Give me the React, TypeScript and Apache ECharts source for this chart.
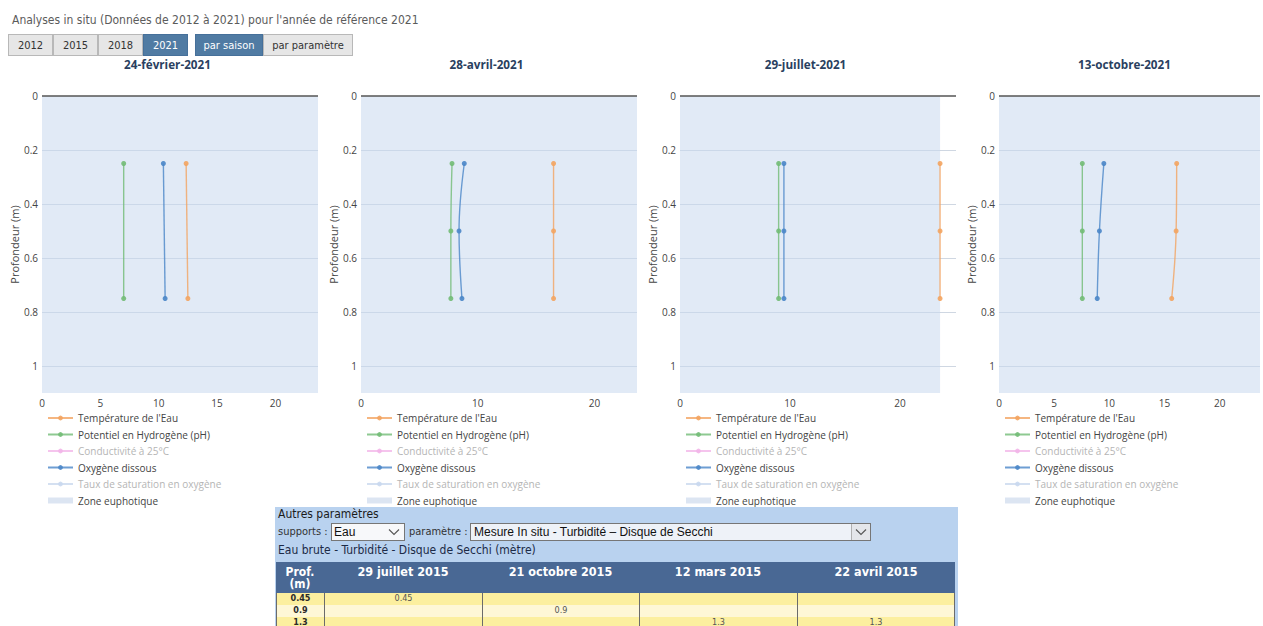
import React, { useEffect, useRef } from "react";
import * as echarts from "echarts";

// ---------- data ----------
const pageTitle = "Analyses in situ (Données de 2012 à 2021) pour l'année de référence 2021";
const yearButtons = ["2012", "2015", "2018", "2021"];
const activeYear = "2021";
const viewButtons = ["par saison", "par paramètre"];
const activeView = "par saison";

const sampleDates = ["24-février-2021", "28-avril-2021", "29-juillet-2021", "13-octobre-2021"];
const depths = [
  [0.25, 0.75],
  [0.25, 0.5, 0.75],
  [0.25, 0.5, 0.75],
  [0.25, 0.5, 0.75],
];
const temperature = [
  [12.35, 12.5],
  [16.5, 16.5, 16.5],
  [23.65, 23.65, 23.65],
  [16.1, 16.05, 15.65],
];
const ph = [
  [7.0, 7.0],
  [7.8, 7.7, 7.7],
  [8.97, 8.97, 8.97],
  [7.55, 7.55, 7.55],
];
const oxygen = [
  [10.4, 10.55],
  [8.85, 8.4, 8.65],
  [9.45, 9.45, 9.45],
  [9.5, 9.1, 8.9],
];
const xAxisMax = [23.65, 23.65, 25.1, 23.65];
const xTickStep = [5, 10, 10, 5];
const depthStep = 0.2;
const depthMax = 1.1;
const euphoticDepth = 1.1;

const seriesNames = [
  "Température de l'Eau",
  "Potentiel en Hydrogène (pH)",
  "Conductivité à 25°C",
  "Oxygène dissous",
  "Taux de saturation en oxygène",
  "Zone euphotique",
];

const supportLabel = "Eau";
const parameterLabel = "Mesure In situ - Turbidité – Disque de Secchi";
const tableTitle = "Eau brute - Turbidité - Disque de Secchi (mètre)";
const tableDates = ["29 juillet 2015", "21 octobre 2015", "12 mars 2015", "22 avril 2015"];
const tableDepths = ["0.45", "0.9", "1.3"];
const tableValues: (string | null)[][] = [
  ["0.45", null, null, null],
  [null, "0.9", null, null],
  [null, null, "1.3", "1.3"],
];

// ---------- styles ----------
const COLORS = {
  temp: "#f3a461",
  ph: "#72bb76",
  cond: "#f2b5e8",
  oxy: "#4a86c8",
  sat: "#c9d8ee",
  zone: "#dce5f2",
};
const chartFont = "'Open Sans', 'Noto Sans', sans-serif";
const pageFont = "'DejaVu Sans Condensed', 'DejaVu Sans', Verdana, sans-serif";

const GRID_LEFT0 = 42;
const GRID_STEP = 319;
const GRID_TOP = 96;
const GRID_W = 276;
const GRID_H = 297;

function buildOption() {
  const zoneX = Math.max(...temperature.flat());
  const grids: any[] = [];
  const xAxes: any[] = [];
  const yAxes: any[] = [];
  const series: any[] = [];
  const titles: any[] = [];
  const legends: any[] = [];
  sampleDates.forEach((date, i) => {
    const left = GRID_LEFT0 + GRID_STEP * i;
    grids.push({ left, top: GRID_TOP, width: GRID_W, height: GRID_H, containLabel: false });
    titles.push({
      text: date,
      left: 8 + GRID_STEP * i + GRID_STEP / 2,
      top: 58,
      padding: 0,
      textAlign: "center",
      textStyle: { fontFamily: chartFont, fontSize: 11.7, fontWeight: "bold", color: "#2a3f5f" },
    });
    const step = xTickStep[i];
    xAxes.push({
      type: "value",
      gridIndex: i,
      min: 0,
      max: xAxisMax[i],
      interval: step,
      axisLine: { show: false },
      axisTick: { show: false },
      splitLine: { show: false },
      axisLabel: {
        color: "#444",
        fontFamily: chartFont,
        fontSize: 10,
        margin: 5,
        formatter: (v: number) => (Math.abs(v / step - Math.round(v / step)) < 1e-6 ? String(v) : ""),
      },
    });
    yAxes.push({
      type: "value",
      gridIndex: i,
      inverse: true,
      min: 0,
      max: depthMax,
      interval: depthStep,
      name: "Profondeur (m)",
      nameLocation: "middle",
      nameGap: 22,
      nameTextStyle: { color: "#444", fontFamily: chartFont, fontSize: 11 },
      axisLine: { show: false },
      axisTick: { show: false },
      splitLine: {
        show: true,
        lineStyle: {
          color: [
            "rgba(0,0,0,0)",
            "#cfd7e2",
            "#cfd7e2",
            "#cfd7e2",
            "#cfd7e2",
            "#cfd7e2",
            "rgba(0,0,0,0)",
          ],
          width: 1,
        },
      },
      axisLabel: {
        color: "#444",
        fontFamily: chartFont,
        fontSize: 10,
        margin: 4,
        formatter: (v: number) =>
          Math.abs(v / depthStep - Math.round(v / depthStep)) < 1e-6 ? String(Math.round(v * 10) / 10) : "",
      },
    });
    const common = {
      type: "line",
      xAxisIndex: i,
      yAxisIndex: i,
      symbol: "circle",
      symbolSize: 5,
      smooth: 0.4,
      lineStyle: { width: 1.4, opacity: 0.8 },
      itemStyle: { opacity: 0.9 },
      z: 3,
    };
    // zone euphotique
    series.push({
      type: "line",
      name: seriesNames[5],
      xAxisIndex: i,
      yAxisIndex: i,
      data: [],
      color: COLORS.zone,
      z: 1,
      markArea: {
        silent: true,
        itemStyle: { color: "rgba(200,216,238,0.55)" },
        data: [[{ xAxis: 0, yAxis: 0 }, { xAxis: zoneX, yAxis: euphoticDepth }]],
      },
      markLine: {
        silent: true,
        symbol: "none",
        label: { show: false },
        lineStyle: { color: "#555", width: 1.5, type: "solid" },
        data: [{ yAxis: 0 }],
      },
    });
    series.push({
      ...common,
      name: seriesNames[0],
      color: COLORS.temp,
      data: temperature[i].map((v, k) => [v, depths[i][k]]),
    });
    series.push({
      ...common,
      name: seriesNames[1],
      color: COLORS.ph,
      data: ph[i].map((v, k) => [v, depths[i][k]]),
    });
    series.push({ ...common, name: seriesNames[2], color: COLORS.cond, data: [] });
    series.push({
      ...common,
      name: seriesNames[3],
      color: COLORS.oxy,
      data: oxygen[i].map((v, k) => [v, depths[i][k]]),
    });
    series.push({ ...common, name: seriesNames[4], color: COLORS.sat, data: [] });

    legends.push({
      orient: "vertical",
      left: left + 5,
      top: 413,
      padding: 0,
      itemWidth: 25,
      itemHeight: 6,
      itemGap: 6.5,
      selectedMode: false,
      textStyle: { fontFamily: chartFont, fontSize: 10, color: "#444", lineHeight: 10 },
      data: seriesNames.map((n, k) => {
        if (k === 2 || k === 4) return { name: n, textStyle: { color: "#b5b5b5" } };
        if (k === 5) return { name: n, icon: "rect" };
        return { name: n };
      }),
    });
  });
  return {
    animation: false,
    title: titles,
    grid: grids,
    xAxis: xAxes,
    yAxis: yAxes,
    legend: legends,
    series,
  };
}

function Chevron() {
  return (
    <svg width="12" height="8" viewBox="0 0 12 8" style={{ display: "block" }}>
      <polyline points="1,1.5 6,6.5 11,1.5" fill="none" stroke="#555" strokeWidth="1.1" />
    </svg>
  );
}

export default function App() {
  const ref = useRef<HTMLDivElement>(null);
  useEffect(() => {
    if (!ref.current) return;
    const chart = echarts.init(ref.current, undefined, { renderer: "svg" });
    chart.setOption(buildOption() as any);
    return () => chart.dispose();
  }, []);

  const btnBase: React.CSSProperties = {
    position: "absolute",
    top: 34,
    height: 22,
    boxSizing: "border-box",
    border: "1px solid #b8b8b8",
    display: "flex",
    alignItems: "center",
    justifyContent: "center",
    fontFamily: pageFont,
    fontSize: 11,
  };
  const yearX = [8, 53, 98, 143];
  const viewX = [195, 263];
  const viewW = [68, 90];

  const colBounds = [276, 324, 482, 639, 797, 955];

  return (
    <div
      style={{
        position: "absolute",
        left: 0,
        top: 0,
        width: 1263,
        height: 626,
        overflow: "hidden",
        background: "#fff",
      }}
    >
      <div ref={ref} style={{ position: "absolute", left: 0, top: 0, width: 1263, height: 626 }} />

      <div
        style={{
          position: "absolute",
          left: 12,
          top: 13,
          fontFamily: pageFont,
          fontSize: 12,
          color: "#5b5b5b",
          whiteSpace: "nowrap",
        }}
      >
        {pageTitle}
      </div>

      {yearButtons.map((y, i) => (
        <div
          key={y}
          style={{
            ...btnBase,
            left: yearX[i],
            width: 45,
            background: y === activeYear ? "#507ba3" : "#e6e6e6",
            color: y === activeYear ? "#fff" : "#333",
            borderColor: y === activeYear ? "#46709a" : "#b8b8b8",
          }}
        >
          {y}
        </div>
      ))}
      {viewButtons.map((v, i) => (
        <div
          key={v}
          style={{
            ...btnBase,
            left: viewX[i],
            width: viewW[i],
            background: v === activeView ? "#507ba3" : "#e6e6e6",
            color: v === activeView ? "#fff" : "#333",
            borderColor: v === activeView ? "#46709a" : "#b8b8b8",
          }}
        >
          {v}
        </div>
      ))}

      {/* Autres paramètres panel */}
      <div
        style={{
          position: "absolute",
          left: 275,
          top: 507,
          width: 683,
          height: 130,
          background: "#b9d2ef",
          fontFamily: pageFont,
          color: "#1e2a40",
        }}
      >
        <div style={{ position: "absolute", left: 3, top: 0, fontSize: 12, color: "#1b1b1b" }}>
          Autres paramètres
        </div>
        <div style={{ position: "absolute", left: 3, top: 18, fontSize: 11, color: "#333" }}>supports :</div>
        <div
          style={{
            position: "absolute",
            left: 56,
            top: 16,
            width: 74,
            height: 18,
            boxSizing: "border-box",
            border: "1px solid #767676",
            background: "#f7f8fa",
            fontFamily: "'Liberation Sans', Arial, sans-serif",
            fontSize: 12,
            color: "#111",
            paddingLeft: 2,
            lineHeight: "16px",
          }}
        >
          {supportLabel}
          <div style={{ position: "absolute", right: 4, top: 4 }}>
            <Chevron />
          </div>
        </div>
        <div style={{ position: "absolute", left: 134, top: 18, fontSize: 11, color: "#333" }}>paramètre :</div>
        <div
          style={{
            position: "absolute",
            left: 195,
            top: 16,
            width: 401,
            height: 18,
            boxSizing: "border-box",
            border: "1px solid #767676",
            background: "#eef2f8",
            fontFamily: "'Liberation Sans', Arial, sans-serif",
            fontSize: 12,
            color: "#111",
            paddingLeft: 3,
            lineHeight: "16px",
          }}
        >
          {parameterLabel}
          <div
            style={{
              position: "absolute",
              right: 0,
              top: 0,
              width: 18,
              height: 16,
              background: "#e4e6ea",
              borderLeft: "1px solid #b0b0b0",
              display: "flex",
              alignItems: "center",
              justifyContent: "center",
            }}
          >
            <Chevron />
          </div>
        </div>
        <div style={{ position: "absolute", left: 3, top: 36, fontSize: 12, color: "#1c2a46" }}>{tableTitle}</div>
      </div>

      {/* table */}
      <div
        style={{
          position: "absolute",
          left: colBounds[0],
          top: 562,
          width: colBounds[5] - colBounds[0],
          height: 31,
          background: "#496894",
        }}
      />
      <div
        style={{
          position: "absolute",
          left: colBounds[0],
          top: 566,
          width: colBounds[1] - colBounds[0],
          textAlign: "center",
          color: "#fff",
          fontFamily: pageFont,
          fontWeight: "bold",
          fontSize: 12,
          lineHeight: "12px",
        }}
      >
        Prof.
        <br />
        (m)
      </div>
      {tableDates.map((d, i) => (
        <div
          key={d}
          style={{
            position: "absolute",
            left: colBounds[i + 1],
            top: 566,
            width: colBounds[i + 2] - colBounds[i + 1],
            textAlign: "center",
            color: "#fff",
            fontFamily: pageFont,
            fontWeight: "bold",
            fontSize: 12.5,
            lineHeight: "12px",
          }}
        >
          {d}
        </div>
      ))}
      {tableDepths.map((dp, r) => (
        <React.Fragment key={dp}>
          {[0, 1, 2, 3, 4].map((c) => (
            <div
              key={c}
              style={{
                position: "absolute",
                left: colBounds[c],
                top: 593 + r * 12,
                width: colBounds[c + 1] - colBounds[c],
                height: 12,
                boxSizing: "border-box",
                background: r % 2 === 0 ? "#fcef9f" : "#fef7d6",
                borderLeft: "1px solid #6b6b6b",
                borderRight: c === 4 ? "1px solid #6b6b6b" : undefined,
                textAlign: "center",
                fontFamily: pageFont,
                fontSize: 9,
                lineHeight: "10px",
                fontWeight: c === 0 ? "bold" : "normal",
                color: c === 0 ? "#2a2a2a" : "#555",
              }}
            >
              {c === 0 ? dp : tableValues[r][c - 1] ?? ""}
            </div>
          ))}
        </React.Fragment>
      ))}
    </div>
  );
}
